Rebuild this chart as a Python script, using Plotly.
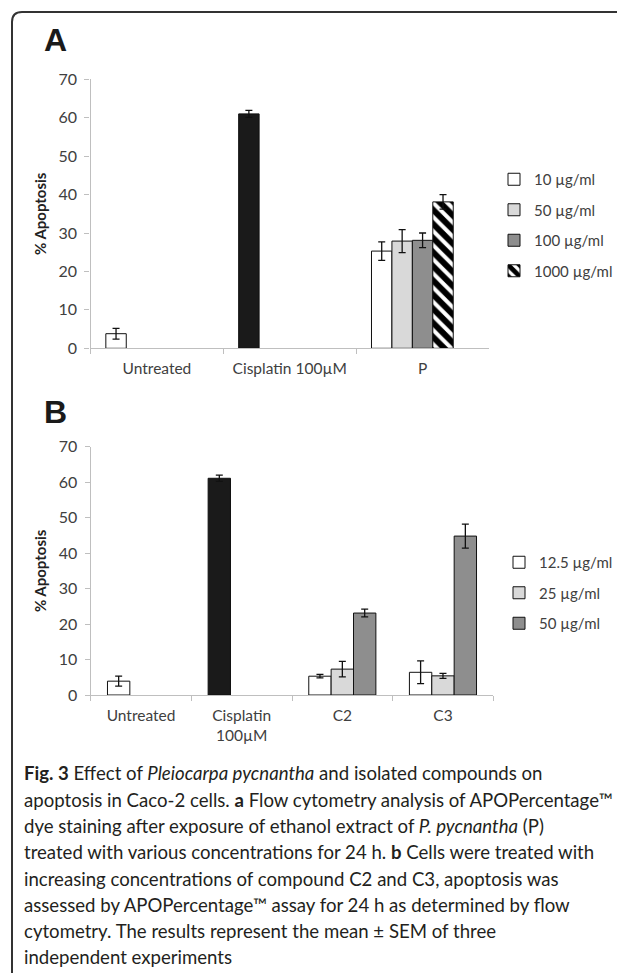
import plotly.graph_objects as go

W, H = 625, 973

# ---------------- data ----------------
cats_a = ["Untreated", "Cisplatin 100µM", "P"]
series_a = ["10 µg/ml", "50 µg/ml", "100 µg/ml", "1000 µg/ml"]
a_10 = [3.8, 61.0, 25.3]
a_10_err = [1.4, 0.9, 2.4]
a_50 = [27.9]
a_50_err = [3.0]
a_100 = [28.1]
a_100_err = [1.9]
a_1000 = [38.1]
a_1000_err = [1.9]

cats_b = ["Untreated", "Cisplatin<br>100µM", "C2", "C3"]
series_b = ["12.5 µg/ml", "25 µg/ml", "50 µg/ml"]
b_125 = [3.9, 61.1, 5.3, 6.4]
b_125_err = [1.4, 0.9, 0.5, 3.2]
b_25 = [7.3, 5.4]
b_25_err = [2.2, 0.7]
b_50 = [23.1, 44.8]
b_50_err = [1.1, 3.4]

y_ticks = [0, 10, 20, 30, 40, 50, 60, 70]

# ---------------- styles ----------------
WHITE, LIGHT, MID, BLACK = "#ffffff", "#d9d9d9", "#8e8e8e", "#1a1a1a"
AXC = "#bfbfbf"
TXT = "#404040"
FONT = "Lato"
OX, OY = 8, 8  # page body margin offset

def px_x(p):
    return (p - OX) / W

def px_y(p):
    return 1 - (p - OY) / H

def err(vals):
    return dict(type="data", array=vals, visible=True, color="#111111", thickness=1.3, width=3.5)

bw = 1 / 6.5  # Excel-like gap width 150% with 5 slots

fig = go.Figure()

# Panel A
fig.add_trace(go.Bar(
    x=cats_a, y=a_10, error_y=err(a_10_err), name=series_a[0],
    marker=dict(color=[WHITE, BLACK, WHITE], line=dict(color="#111", width=1)),
    width=bw, offset=-2.5 * bw, xaxis="x", yaxis="y", legend="legend", legendgroup="a0"))
fig.add_trace(go.Bar(
    x=cats_a[2:], y=a_50, error_y=err(a_50_err), name=series_a[1],
    marker=dict(color=LIGHT, line=dict(color="#111", width=1)),
    width=bw, offset=-1.5 * bw, xaxis="x", yaxis="y", legend="legend", legendgroup="a1"))
fig.add_trace(go.Bar(
    x=cats_a[2:], y=a_100, error_y=err(a_100_err), name=series_a[2],
    marker=dict(color=MID, line=dict(color="#111", width=1)),
    width=bw, offset=-0.5 * bw, xaxis="x", yaxis="y", legend="legend", legendgroup="a2"))
fig.add_trace(go.Bar(
    x=cats_a[2:], y=a_1000, error_y=err(a_1000_err), name=series_a[3],
    marker=dict(color=WHITE, line=dict(color="#111", width=1),
                pattern=dict(shape="\\", fgcolor="#000000", bgcolor=WHITE, size=10,
                             solidity=0.6, fgopacity=1)),
    width=bw, offset=0.5 * bw, xaxis="x", yaxis="y", legend="legend", legendgroup="a3"))

# Panel B
fig.add_trace(go.Bar(
    x=cats_b, y=b_125, error_y=err(b_125_err), name=series_b[0],
    marker=dict(color=[WHITE, BLACK, WHITE, WHITE], line=dict(color="#111", width=1)),
    xaxis="x2", yaxis="y2", legend="legend2", legendgroup="b0"))
fig.add_trace(go.Bar(
    x=cats_b[2:], y=b_25, error_y=err(b_25_err), name=series_b[1],
    marker=dict(color=LIGHT, line=dict(color="#111", width=1)),
    xaxis="x2", yaxis="y2", legend="legend2", legendgroup="b1"))
fig.add_trace(go.Bar(
    x=cats_b[2:], y=b_50, error_y=err(b_50_err), name=series_b[2],
    marker=dict(color=MID, line=dict(color="#111", width=1)),
    xaxis="x2", yaxis="y2", legend="legend2", legendgroup="b2"))

xcommon = dict(type="category", showline=True, linecolor=AXC, linewidth=1.3,
               ticks="outside", tickson="boundaries", ticklen=5, tickcolor=AXC,
               tickfont=dict(family=FONT, size=15.5, color=TXT), showgrid=False,
               zeroline=False, ticklabelstandoff=6, automargin=False)
ycommon = dict(range=[0, 70], tickvals=y_ticks, showline=True, linecolor=AXC, linewidth=1.3,
               ticks="outside", ticklen=5, tickcolor=AXC, showgrid=False, zeroline=False,
               tickfont=dict(family=FONT, size=16, color=TXT), ticklabelstandoff=4,
               automargin=False,
               title=dict(text="<b>% Apoptosis</b>", font=dict(family=FONT, size=15, color="#222"),
                          standoff=8))

fig.update_layout(
    width=W, height=H, margin=dict(l=0, r=0, t=0, b=0, pad=0, autoexpand=False),
    paper_bgcolor="white", plot_bgcolor="white",
    barmode="group", bargap=1 / 3, bargroupgap=0,
    xaxis=dict(domain=[px_x(90.5), px_x(489)], anchor="y",
               categoryorder="array", categoryarray=cats_a, range=[-0.5, 2.5], **xcommon),
    yaxis=dict(domain=[px_y(348.3), px_y(79.3)], anchor="x", **ycommon),
    xaxis2=dict(domain=[px_x(90.7), px_x(493.3)], anchor="y2",
                categoryorder="array", categoryarray=cats_b, range=[-0.5, 3.5], **xcommon),
    yaxis2=dict(domain=[px_y(695), px_y(446.7)], anchor="x2", **ycommon),
    legend=dict(x=px_x(494), y=px_y(163), xanchor="left", yanchor="top",
                font=dict(family=FONT, size=15, color=TXT), tracegroupgap=8,
                bgcolor="rgba(0,0,0,0)", itemwidth=30),
    legend2=dict(x=px_x(499), y=px_y(546), xanchor="left", yanchor="top",
                 font=dict(family=FONT, size=15, color=TXT), tracegroupgap=8,
                 bgcolor="rgba(0,0,0,0)", itemwidth=30),
    showlegend=True,
)

# frame (rounded top-left corner)
x0, y0, r = px_x(12), px_y(12), 10
fig.add_shape(type="path", xref="paper", yref="paper",
              path=(f"M {x0},{px_y(990)} L {x0},{px_y(12 + r)} "
                    f"Q {x0},{y0} {px_x(12 + r)},{y0} L {px_x(640)},{y0}"),
              line=dict(color="#333333", width=2))

# panel letters
fig.add_annotation(text="<b>A</b>", x=px_x(42), y=px_y(40), xref="paper", yref="paper",
                   xanchor="left", yanchor="middle", showarrow=False,
                   font=dict(family="Liberation Sans", size=32, color="#1a1a1a"))
fig.add_annotation(text="<b>B</b>", x=px_x(42), y=px_y(412), xref="paper", yref="paper",
                   xanchor="left", yanchor="middle", showarrow=False,
                   font=dict(family="Liberation Sans", size=32, color="#1a1a1a"))

# caption
caption = [
    "<b>Fig. 3</b> Effect of <i>Pleiocarpa pycnantha</i> and isolated compounds on",
    "apoptosis in Caco-2 cells. <b>a</b> Flow cytometry analysis of APOPercentage™",
    "dye staining after exposure of ethanol extract of <i>P. pycnantha</i> (P)",
    "treated with various concentrations for 24 h. <b>b</b> Cells were treated with",
    "increasing concentrations of compound C2 and C3, apoptosis was",
    "assessed by APOPercentage™ assay for 24 h as determined by flow",
    "cytometry. The results represent the mean ± SEM of three",
    "independent experiments",
]
line_y = [773, 800, 826, 852, 879, 905, 931, 957]
for t, yy in zip(caption, line_y):
    fig.add_annotation(text=t, x=px_x(22), y=px_y(yy), xref="paper", yref="paper",
                       xanchor="left", yanchor="middle", showarrow=False, align="left",
                       font=dict(family=FONT, size=18.6, color="#231f20"))

fig.write_html("out.html")
